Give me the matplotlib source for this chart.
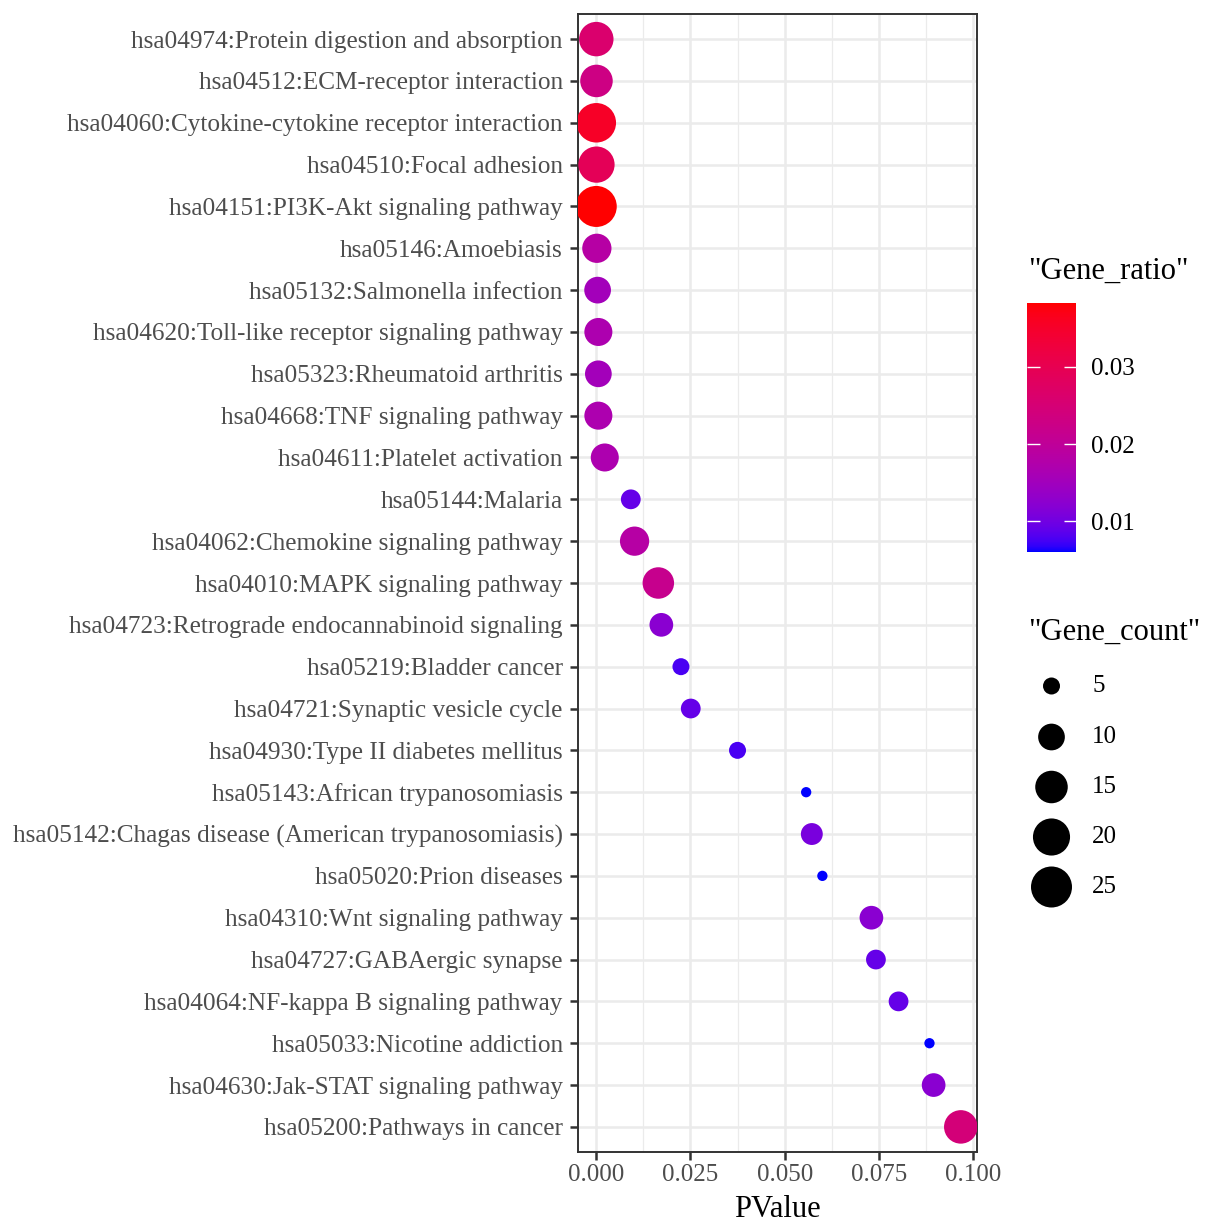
import numpy as np
import matplotlib

matplotlib.use("Agg")
import matplotlib.pyplot as plt
from matplotlib.colors import ListedColormap, Normalize
from matplotlib.cm import ScalarMappable

DPI = 100
plt.rcParams["font.family"] = ["Liberation Serif", "DejaVu Serif"]

# KEGG enrichment results, top row first
pathways = [
    "hsa04974:Protein digestion and absorption",
    "hsa04512:ECM-receptor interaction",
    "hsa04060:Cytokine-cytokine receptor interaction",
    "hsa04510:Focal adhesion",
    "hsa04151:PI3K-Akt signaling pathway",
    "hsa05146:Amoebiasis",
    "hsa05132:Salmonella infection",
    "hsa04620:Toll-like receptor signaling pathway",
    "hsa05323:Rheumatoid arthritis",
    "hsa04668:TNF signaling pathway",
    "hsa04611:Platelet activation",
    "hsa05144:Malaria",
    "hsa04062:Chemokine signaling pathway",
    "hsa04010:MAPK signaling pathway",
    "hsa04723:Retrograde endocannabinoid signaling",
    "hsa05219:Bladder cancer",
    "hsa04721:Synaptic vesicle cycle",
    "hsa04930:Type II diabetes mellitus",
    "hsa05143:African trypanosomiasis",
    "hsa05142:Chagas disease (American trypanosomiasis)",
    "hsa05020:Prion diseases",
    "hsa04310:Wnt signaling pathway",
    "hsa04727:GABAergic synapse",
    "hsa04064:NF-kappa B signaling pathway",
    "hsa05033:Nicotine addiction",
    "hsa04630:Jak-STAT signaling pathway",
    "hsa05200:Pathways in cancer",
]
pvalues = [0.00005, 0.0001, 0.00005, 0.0001, 0.00004, 0.0002, 0.0004, 0.0006,
           0.0006, 0.0006, 0.0023, 0.0092, 0.0102, 0.0165, 0.0173, 0.0225,
           0.0251, 0.0375, 0.0557, 0.0572, 0.0600, 0.0730, 0.0742, 0.0802,
           0.0884, 0.0895, 0.0967]
gene_counts = [17, 15, 23, 19, 25, 12, 10, 11, 10, 11, 11, 6, 12, 14, 8, 5,
               6, 5, 4, 7, 4, 8, 6, 6, 4, 8, 16]
gene_ratio = [0.0261, 0.0230, 0.0353, 0.0291, 0.0383, 0.0184, 0.0153, 0.0169,
              0.0153, 0.0169, 0.0169, 0.0092, 0.0184, 0.0215, 0.0123, 0.0077,
              0.0092, 0.0077, 0.0061, 0.0107, 0.0061, 0.0123, 0.0092, 0.0092,
              0.0061, 0.0123, 0.0245]

x_ticks = [0.0, 0.025, 0.05, 0.075, 0.1]
x_minor = [0.0125, 0.0375, 0.0625, 0.0875]
ratio_ticks = [0.01, 0.02, 0.03]
count_breaks = [5, 10, 15, 20, 25]


# blue -> red gradient interpolated in CIELAB
def srgb_to_lab(rgb):
    rgb = np.asarray(rgb, float)
    lin = np.where(rgb <= 0.04045, rgb / 12.92, ((rgb + 0.055) / 1.055) ** 2.4)
    m = np.array([[0.4124, 0.3576, 0.1805],
                  [0.2126, 0.7152, 0.0722],
                  [0.0193, 0.1192, 0.9505]])
    xyz = m @ lin / np.array([0.95047, 1.0, 1.08883])
    f = np.where(xyz > 0.008856, np.cbrt(xyz), 7.787 * xyz + 16 / 116)
    return np.array([116 * f[1] - 16, 500 * (f[0] - f[1]), 200 * (f[1] - f[2])])


def lab_to_srgb(lab):
    L, a, b = lab
    fy = (L + 16) / 116
    fx = fy + a / 500
    fz = fy - b / 200
    f = np.array([fx, fy, fz])
    xyz = np.where(f ** 3 > 0.008856, f ** 3, (f - 16 / 116) / 7.787)
    xyz = xyz * np.array([0.95047, 1.0, 1.08883])
    m = np.array([[3.2406, -1.5372, -0.4986],
                  [-0.9689, 1.8758, 0.0415],
                  [0.0557, -0.2040, 1.0570]])
    lin = np.clip(m @ xyz, 0, 1)
    rgb = np.where(lin <= 0.0031308, 12.92 * lin, 1.055 * lin ** (1 / 2.4) - 0.055)
    return np.clip(rgb, 0, 1)


lab_lo = srgb_to_lab([0, 0, 1])
lab_hi = srgb_to_lab([1, 0, 0])
cmap = ListedColormap([lab_to_srgb(lab_lo + t * (lab_hi - lab_lo)) for t in np.linspace(0, 1, 300)])
norm = Normalize(vmin=min(gene_ratio), vmax=max(gene_ratio))


# point area scale: diameter grows with sqrt(count)
def point_area(counts):
    d_px = 10.3 + 6.7 * np.sqrt(np.asarray(counts, float) - min(gene_counts))
    return (d_px * 72 / DPI) ** 2


W, H = 1205, 1224
fig = plt.figure(figsize=(W / DPI, H / DPI), dpi=DPI)
fig.patch.set_facecolor("white")
ax = fig.add_axes([578 / W, 1 - 1152 / H, 399 / W, 1138 / H])

n = len(pathways)
ypos = np.arange(n)[::-1]
ax.scatter(pvalues, ypos, s=point_area(gene_counts), c=gene_ratio, cmap=cmap, norm=norm,
           linewidths=0, zorder=3)

ax.set_xlim(-0.0048, 0.1010)
ax.set_ylim(-0.6, n - 1 + 0.6)
ax.set_yticks(ypos)
ax.set_yticklabels(pathways)
ax.set_xticks(x_ticks)
ax.set_xticklabels([f"{v:.3f}" for v in x_ticks])
ax.set_xticks(x_minor, minor=True)
ax.grid(which="major", color="#EBEBEB", linewidth=1.8, zorder=0)
ax.grid(which="minor", axis="x", color="#EBEBEB", linewidth=0.9, zorder=0)
ax.set_axisbelow(True)
ax.tick_params(axis="both", which="major", length=5.5, width=1.8, color="#333333",
               labelsize=18, labelcolor="#4D4D4D")
ax.tick_params(axis="y", pad=5.5, labelsize=18.2)
ax.tick_params(axis="x", pad=3)
ax.tick_params(which="minor", length=0)
for sp in ax.spines.values():
    sp.set_color("#333333")
    sp.set_linewidth(1.4)
ax.set_xlabel("PValue", fontsize=22, color="black", labelpad=6.5)

# colour bar legend
cax = fig.add_axes([1027 / W, 1 - 551.5 / H, 49 / W, 249 / H])
cb = fig.colorbar(ScalarMappable(norm=norm, cmap=cmap), cax=cax)
cb.outline.set_visible(False)
cb.set_ticks(ratio_ticks)
cb.set_ticklabels([f"{v:.2f}" for v in ratio_ticks])
cax.tick_params(axis="y", direction="in", length=9, width=1, color="white",
                left=True, right=True, labelleft=False, labelright=True,
                labelsize=18, labelcolor="black", pad=11)
fig.text(1028 / W, 1 - 271 / H, '"Gene_ratio"', fontsize=22, ha="left", va="center")

# size legend
fig.text(1028 / W, 1 - 632 / H, '"Gene_count"', fontsize=22, ha="left", va="center")
lax = fig.add_axes([1000 / W, 1 - 912 / H, 205 / W, 250 / H])
lax.set_xlim(0, 205)
lax.set_ylim(0, 250)
lax.axis("off")
key_y = 250 - np.array([686, 737, 787, 837, 887]) + 662
lax.scatter([51.5] * len(count_breaks), key_y, s=point_area(count_breaks), c="black",
            linewidths=0, clip_on=False)
for yy, lab in zip(key_y, count_breaks):
    lax.text(92, yy, str(lab), fontsize=18, ha="left", va="center")

fig.savefig("out.png", dpi=DPI, facecolor="white")
